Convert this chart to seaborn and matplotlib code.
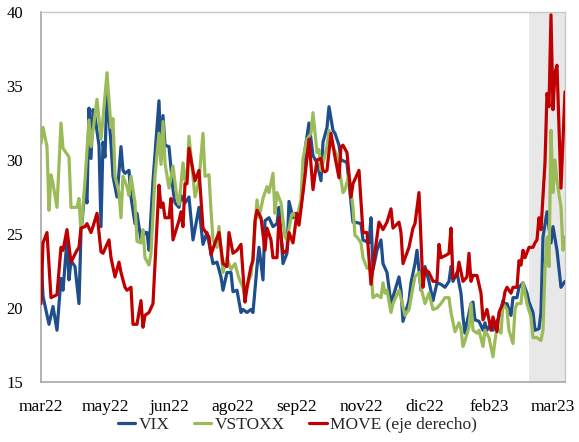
import matplotlib
matplotlib.use("Agg")
import matplotlib.pyplot as plt
import pandas as pd
import seaborn as sns

# Daily volatility indices, trading-day index from March 2022
VIX = [(0, 23.5), (1, 20.8), (4, 18.9), (6, 20.1), (8, 18.5), (10, 22.0), (11, 21.2), (13, 24.6),
       (14, 21.9), (15, 23.2), (17, 22.8), (19, 20.3), (20, 25.1), (22, 28.0), (23, 27.1), (24, 33.5),
       (25, 30.1), (26, 33.4), (27, 32.9), (29, 31.0), (30, 25.5), (31, 31.2), (32, 30.2), (33, 34.7),
       (35, 31.1), (36, 28.9), (38, 27.5), (40, 30.9), (41, 29.3), (42, 29.1), (44, 29.3), (45, 27.5),
       (47, 25.7), (48, 26.4), (50, 24.6), (52, 25.1), (53, 25.1), (54, 23.9), (56, 28.6), (59, 34.0),
       (60, 30.0), (61, 33.0), (62, 31.0), (64, 30.9), (66, 28.0), (67, 27.1), (69, 26.8), (70, 27.6),
       (72, 27.1), (74, 27.5), (76, 24.6), (79, 26.8), (81, 24.3), (83, 25.1), (86, 23.0), (88, 23.1),
       (90, 22.1), (91, 21.2), (93, 22.4), (95, 22.4), (96, 21.1), (98, 21.2), (100, 19.7), (101, 19.9),
       (103, 19.7), (105, 19.9), (106, 19.7), (108, 22.8), (109, 24.1), (111, 21.9), (112, 25.9),
       (114, 26.1), (116, 25.5), (118, 25.7), (119, 26.8), (121, 23.0), (123, 23.7), (124, 27.2),
       (126, 26.1), (127, 26.4), (129, 25.9), (131, 28.0), (132, 30.7), (134, 32.5), (136, 30.3),
       (138, 29.8), (140, 28.6), (141, 31.2), (143, 32.2), (144, 33.6), (146, 32.0), (147, 31.8),
       (149, 31.0), (150, 30.0), (152, 29.9), (153, 29.8), (156, 25.8), (157, 25.8), (160, 25.7),
       (161, 24.6), (164, 24.4), (165, 26.1), (166, 22.6), (168, 23.9), (170, 24.6), (171, 23.0),
       (173, 22.4), (175, 20.3), (177, 21.2), (179, 22.1), (180, 21.2), (181, 19.1), (184, 20.5),
       (185, 21.7), (187, 23.0), (188, 23.9), (190, 21.2), (192, 22.8), (194, 21.8), (196, 20.5),
       (198, 21.7), (200, 21.6), (202, 21.4), (204, 21.8), (205, 22.8), (206, 21.8), (208, 22.4),
       (210, 21.0), (211, 19.4), (212, 18.3), (213, 19.0), (215, 20.3), (216, 20.4), (217, 19.2),
       (219, 19.1), (221, 18.5), (222, 19.0), (223, 18.5), (225, 18.9), (226, 18.5), (228, 19.1),
       (229, 19.4), (231, 20.5), (232, 20.2), (233, 20.3), (235, 19.5), (236, 20.7), (238, 20.7),
       (239, 21.4), (241, 21.7), (243, 21.0), (244, 20.4), (246, 19.7), (247, 18.5), (249, 18.6),
       (250, 19.7), (251, 24.8), (253, 26.5), (255, 24.4), (256, 25.5), (258, 23.9), (260, 21.4),
       (262, 21.8)]

VSTOXX = [(0, 31.1), (1, 32.2), (3, 30.9), (4, 26.6), (5, 29.0), (6, 28.4), (8, 26.8), (10, 32.5),
          (11, 30.8), (14, 30.2), (15, 26.8), (18, 26.8), (19, 27.4), (20, 25.1), (22, 28.6), (24, 32.7),
          (25, 30.9), (28, 34.1), (30, 31.4), (31, 32.8), (33, 35.9), (35, 32.2), (36, 32.8), (37, 28.9),
          (39, 27.8), (40, 26.1), (41, 28.9), (43, 28.2), (44, 27.6), (45, 28.9), (47, 27.1), (48, 24.5),
          (50, 24.4), (51, 25.3), (52, 23.4), (54, 22.9), (55, 23.7), (57, 28.9), (59, 31.8), (60, 29.7),
          (61, 32.6), (62, 29.8), (64, 28.1), (66, 29.6), (68, 27.4), (69, 27.0), (71, 29.8), (72, 28.6),
          (73, 28.9), (74, 31.6), (76, 28.9), (77, 27.5), (79, 28.6), (81, 31.8), (82, 28.9), (84, 29.0),
          (85, 26.6), (86, 24.6), (88, 24.1), (89, 25.5), (91, 22.4), (93, 23.4), (95, 22.6), (97, 23.0),
          (99, 22.0), (101, 21.4), (102, 20.7), (104, 21.9), (105, 22.2), (106, 23.6), (107, 25.5),
          (108, 27.3), (109, 26.1), (111, 27.4), (113, 28.2), (114, 27.8), (116, 29.1), (117, 26.4),
          (118, 27.8), (120, 27.1), (122, 24.8), (123, 24.6), (125, 26.1), (126, 26.4), (128, 26.1),
          (130, 27.3), (131, 30.1), (133, 31.4), (135, 31.8), (136, 33.2), (138, 30.5), (139, 30.7),
          (140, 29.3), (141, 29.8), (143, 30.9), (144, 32.0), (146, 30.9), (148, 30.3), (149, 29.5),
          (151, 27.8), (152, 28.0), (154, 29.0), (156, 26.8), (157, 24.9), (158, 24.8), (160, 24.4),
          (161, 23.4), (163, 22.7), (165, 22.6), (166, 20.7), (168, 20.9), (170, 20.7), (171, 21.7),
          (172, 21.0), (173, 21.2), (175, 19.7), (176, 20.3), (178, 20.9), (179, 21.2), (181, 20.1),
          (182, 19.5), (184, 19.9), (186, 21.4), (187, 22.1), (189, 22.4), (190, 21.4), (192, 20.3),
          (194, 21.0), (196, 19.9), (198, 20.0), (200, 20.3), (202, 20.7), (204, 20.7), (205, 19.7),
          (207, 18.4), (209, 19.0), (210, 18.6), (211, 17.4), (212, 17.8), (214, 18.7), (215, 20.3),
          (216, 18.5), (218, 18.3), (219, 18.5), (221, 17.4), (222, 18.5), (224, 18.0), (226, 16.7),
          (227, 17.8), (228, 18.7), (230, 18.3), (231, 20.3), (233, 19.9), (234, 18.5), (236, 17.6),
          (237, 19.9), (238, 20.3), (240, 20.3), (241, 21.7), (243, 20.3), (245, 19.4), (246, 18.0),
          (248, 18.0), (250, 17.8), (251, 18.5), (252, 22.6), (253, 24.8), (254, 22.8), (255, 32.0),
          (256, 27.8), (257, 30.0), (258, 28.6), (260, 26.8), (261, 23.9), (262, 24.8)]

MOVE = [(0, 20.3), (1, 24.4), (3, 25.1), (5, 20.7), (8, 20.9), (10, 24.1), (11, 23.9), (13, 25.3),
        (15, 23.1), (18, 23.9), (19, 24.1), (20, 25.4), (22, 25.5), (23, 25.7), (25, 25.1), (26, 25.5),
        (28, 26.4), (30, 23.8), (31, 23.7), (34, 24.6), (35, 23.4), (37, 22.1), (39, 23.1), (40, 22.4),
        (42, 21.4), (43, 21.2), (45, 21.4), (46, 18.9), (48, 18.9), (50, 20.5), (51, 18.7), (52, 19.5),
        (54, 19.7), (56, 20.3), (59, 28.3), (60, 26.8), (61, 27.1), (62, 26.1), (64, 26.1), (65, 27.4),
        (66, 24.6), (69, 25.9), (70, 26.5), (71, 25.5), (72, 28.4), (73, 28.4), (74, 30.8), (76, 29.3),
        (77, 28.6), (79, 29.3), (81, 25.4), (84, 24.8), (85, 23.6), (87, 24.4), (89, 25.1), (91, 23.0),
        (93, 22.8), (94, 25.1), (96, 23.7), (98, 23.9), (100, 24.3), (102, 20.4), (103, 21.4),
        (105, 22.8), (106, 23.2), (107, 25.9), (108, 26.6), (110, 26.1), (112, 23.9), (113, 25.4),
        (115, 24.6), (116, 23.4), (118, 23.4), (119, 26.1), (121, 23.7), (123, 23.9), (124, 25.1),
        (126, 24.4), (128, 26.4), (129, 25.6), (132, 28.9), (134, 31.4), (136, 28.0), (138, 30.0),
        (140, 30.1), (141, 29.3), (142, 29.2), (143, 29.3), (145, 31.8), (147, 30.2), (149, 28.8),
        (150, 30.9), (151, 31.0), (153, 30.5), (155, 27.5), (156, 28.4), (159, 29.3), (161, 25.1),
        (163, 25.1), (165, 21.6), (167, 23.8), (169, 25.8), (171, 25.3), (173, 25.8), (175, 26.7),
        (176, 25.4), (179, 25.8), (180, 25.1), (181, 23.0), (184, 24.1), (186, 25.4), (187, 25.7),
        (189, 27.8), (191, 21.4), (192, 22.6), (194, 22.4), (196, 21.8), (198, 21.8), (199, 24.3),
        (200, 23.4), (203, 23.6), (204, 23.7), (205, 25.4), (206, 22.0), (208, 22.2), (209, 23.1),
        (211, 21.8), (213, 22.1), (214, 23.7), (215, 21.8), (216, 22.2), (218, 22.2), (220, 21.0),
        (221, 19.2), (223, 19.9), (225, 18.5), (226, 19.4), (228, 18.4), (229, 19.7), (231, 20.3),
        (232, 21.1), (233, 21.4), (235, 21.0), (236, 21.4), (238, 21.4), (239, 23.2), (240, 22.9),
        (241, 23.9), (242, 23.4), (244, 24.1), (246, 24.1), (247, 24.4), (248, 24.6), (249, 26.1),
        (250, 25.3), (252, 29.8), (253, 34.5), (254, 33.6), (255, 39.8), (256, 33.4), (257, 35.9),
        (258, 36.4), (260, 28.1), (262, 34.6)]

SERIES_NAMES = ["VIX", "VSTOXX", "MOVE (eje derecho)"]
SERIES_COLORS = ["#1F4E8C", "#9BBB59", "#C00000"]
TICK_DAYS = [0, 32, 64, 96, 128, 160, 192, 224, 256]
TICK_LABELS = ["mar22", "may22", "jun22", "ago22", "sep22", "nov22", "dic22", "feb23", "mar23"]
SHADE_START, LAST_DAY = 244, 262

frames = []
for name, data in zip(SERIES_NAMES, [VIX, VSTOXX, MOVE]):
    d = pd.DataFrame(data, columns=["day", "value"])
    d["serie"] = name
    frames.append(d)
df = pd.concat(frames, ignore_index=True)

sns.set_theme(style="white")
plt.rcParams["font.family"] = ["Liberation Serif", "DejaVu Serif"]

fig = plt.figure(figsize=(5.79, 4.42), dpi=100)
ax = fig.add_axes([0.0708, 0.1357, 0.905, 0.8372])

ax.axvspan(SHADE_START, LAST_DAY, color="#E8E8E8", lw=0, zorder=0)

sns.lineplot(data=df, x="day", y="value", hue="serie", hue_order=SERIES_NAMES,
             palette=SERIES_COLORS, estimator=None, linewidth=2.3, legend=False,
             ax=ax, zorder=3)

ax.set_xlim(0, LAST_DAY)
ax.set_ylim(15, 40)
ax.set_yticks([15, 20, 25, 30, 35, 40])
ax.set_xticks(TICK_DAYS)
ax.set_xticklabels(TICK_LABELS)
ax.set_xlabel("")
ax.set_ylabel("")
ax.tick_params(axis="both", length=0, colors="black")
ax.tick_params(axis="y", pad=13, labelsize=12)
ax.tick_params(axis="x", pad=12, labelsize=12.5)

for side in ["left", "bottom"]:
    ax.spines[side].set_color("#A6A6A6")
    ax.spines[side].set_linewidth(1.2)
for side in ["top", "right"]:
    ax.spines[side].set_color("#C8C8C8")
    ax.spines[side].set_linewidth(1.0)

handles = [plt.Line2D([], [], color=c, lw=2.3) for c in SERIES_COLORS]
fig.legend(handles, SERIES_NAMES, loc="center", bbox_to_anchor=(0.514, 0.039), ncol=3,
           frameon=False, fontsize=12.5, handlelength=1.0, handletextpad=0.2,
           columnspacing=1.4)

fig.savefig("out.png", dpi=100)
